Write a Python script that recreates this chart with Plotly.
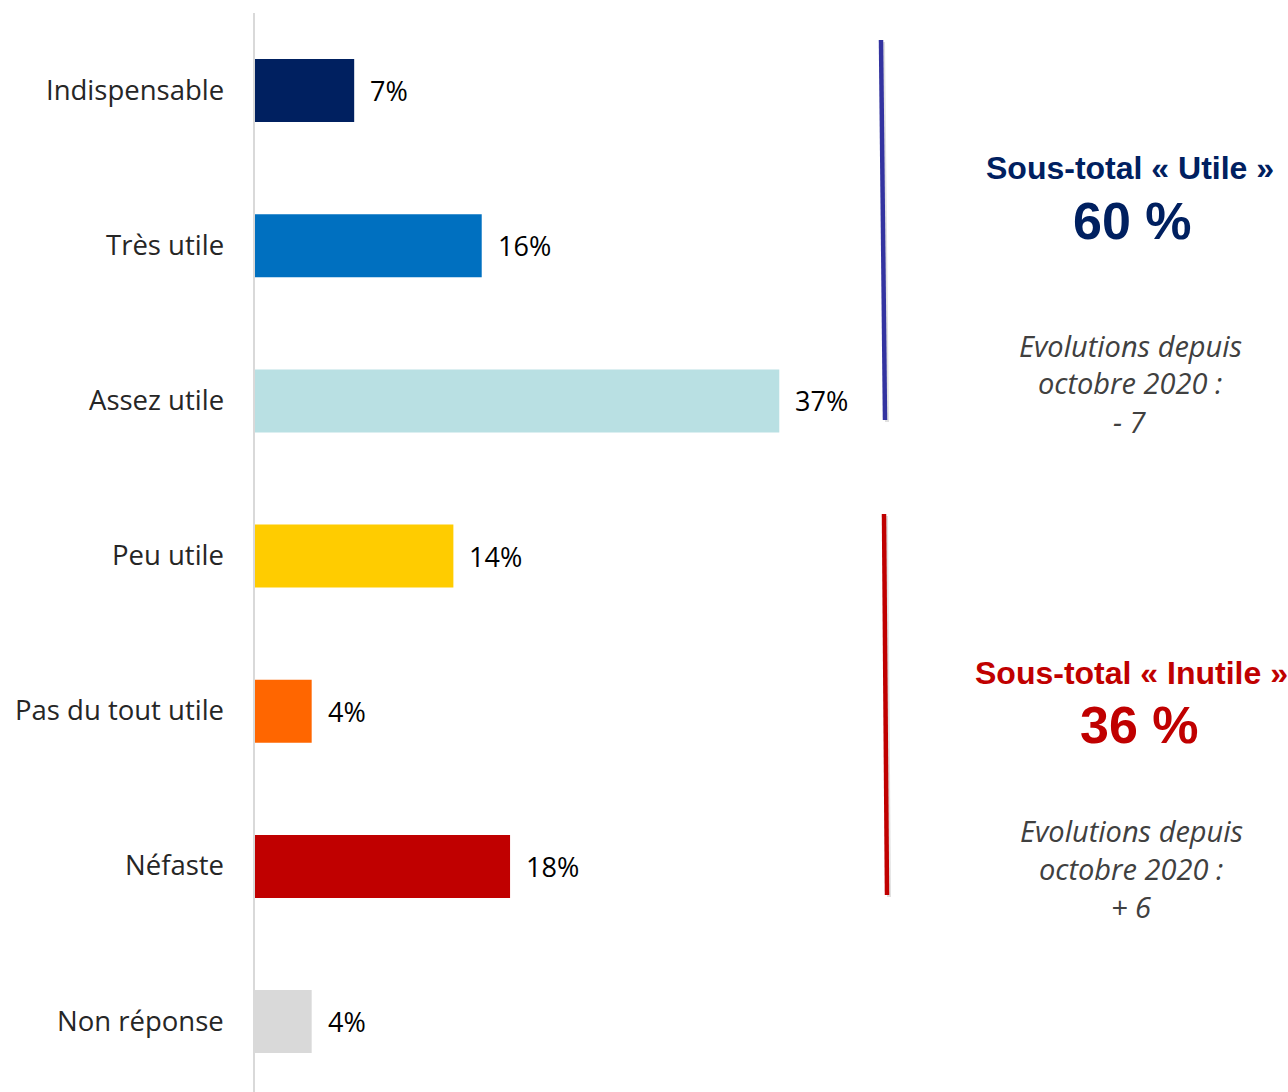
import plotly.graph_objects as go

# Survey answers, top to bottom
categories = ["Indispensable", "Très utile", "Assez utile", "Peu utile",
              "Pas du tout utile", "Néfaste", "Non réponse"]
values = [7, 16, 37, 14, 4, 18, 4]
bar_colors = ["#002060", "#0070C0", "#B9E0E3", "#FFCC00",
              "#FF6600", "#C00000", "#D9D9D9"]

# Sub-totals and their change since October 2020
subtotal_titles = ["Sous-total « Utile »", "Sous-total « Inutile »"]
subtotal_values = ["60 %", "36 %"]
subtotal_changes = ["- 7", "+ 6"]
subtotal_colors = ["#002060", "#C00000"]
bracket_colors = ["#3333A0", "#C00000"]

W, H = 1288, 1092
ML, MT = 255, 13
PLOT_W = W - ML
PLOT_H = H - MT
PX_PER_PCT = 14.17
BAND = 155.17


def px(x):
    return (x - ML) / PLOT_W


def py(y):
    return (H - y) / PLOT_H


fig = go.Figure()
fig.add_trace(go.Bar(
    x=values, y=categories, orientation="h",
    marker=dict(color=bar_colors, line=dict(width=0)),
    width=63 / BAND, hoverinfo="skip",
))

annotations = []
# category labels on the left
for c in categories:
    annotations.append(dict(
        x=0, xref="paper", y=c, yref="y", text=c, showarrow=False,
        xanchor="right", yanchor="middle", xshift=-29, yshift=1.5,
        font=dict(family="Open Sans", size=27.5, color="#262626"),
    ))
# value labels at the end of each bar
for c, v in zip(categories, values):
    annotations.append(dict(
        x=v, xref="x", y=c, yref="y", text=f"{v}%", showarrow=False,
        xanchor="left", yanchor="middle", xshift=14,
        font=dict(family="Open Sans", size=27, color="#000000"),
    ))

# sub-total blocks on the right
blocks = [
    dict(cx=1130, title_y=168, val_cx=1132, val_y=221, evo_y=[345, 383, 421],
         line=((881, 40), (885, 420))),
    dict(cx=1131, title_y=673, val_cx=1139, val_y=725, evo_y=[830, 868, 906],
         line=((884, 514), (887, 895))),
]
shapes = []
for i, b in enumerate(blocks):
    annotations.append(dict(
        x=px(b["cx"]), xref="paper", y=py(b["title_y"]), yref="paper",
        text=f"<b>{subtotal_titles[i]}</b>", showarrow=False,
        xanchor="center", yanchor="middle",
        font=dict(family="Liberation Sans", size=32, color=subtotal_colors[i]),
    ))
    annotations.append(dict(
        x=px(b["val_cx"]), xref="paper", y=py(b["val_y"]), yref="paper",
        text=f"<b>{subtotal_values[i]}</b>", showarrow=False,
        xanchor="center", yanchor="middle",
        font=dict(family="Liberation Sans", size=52, color=subtotal_colors[i]),
    ))
    lines = ["Evolutions depuis", "octobre 2020 :", subtotal_changes[i]]
    for txt, yy in zip(lines, b["evo_y"]):
        annotations.append(dict(
            x=px(b["cx"]), xref="paper", y=py(yy), yref="paper",
            text=f"<i>{txt}</i>", showarrow=False,
            xanchor="center", yanchor="middle",
            font=dict(family="Open Sans", size=29, color="#404040"),
        ))
    (x0, y0), (x1, y1) = b["line"]
    # soft shadow behind the bracket line
    shapes.append(dict(
        type="line", xref="paper", yref="paper",
        x0=px(x0 + 2), y0=py(y0 + 2), x1=px(x1 + 2), y1=py(y1 + 2),
        line=dict(color="rgba(0,0,0,0.12)", width=4), layer="above",
    ))
    shapes.append(dict(
        type="line", xref="paper", yref="paper",
        x0=px(x0), y0=py(y0), x1=px(x1), y1=py(y1),
        line=dict(color=bracket_colors[i], width=4.5), layer="above",
    ))

fig.update_layout(
    width=W, height=H,
    margin=dict(l=ML, r=0, t=MT, b=0, pad=0),
    paper_bgcolor="white", plot_bgcolor="white",
    showlegend=False,
    xaxis=dict(range=[0, PLOT_W / PX_PER_PCT], visible=False, fixedrange=True),
    yaxis=dict(
        type="category", categoryorder="array", categoryarray=categories,
        range=[-0.5 + PLOT_H / BAND, -0.5],
        showticklabels=False, ticks="", showgrid=False, zeroline=False,
        showline=True, linecolor="#D9D9D9", linewidth=2, fixedrange=True,
    ),
    annotations=annotations,
    shapes=shapes,
)

fig.write_html("out.html")
